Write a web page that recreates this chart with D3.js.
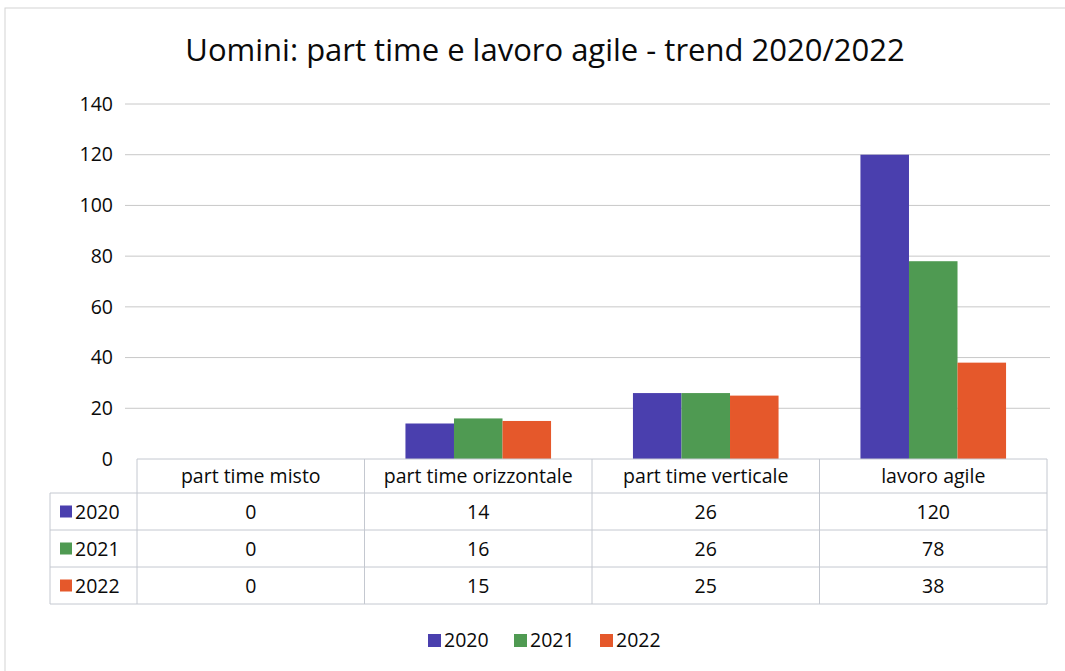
<!DOCTYPE html>
<html>
<head>
<meta charset="utf-8">
<script src="https://cdn.jsdelivr.net/npm/d3@7"></script>
<style>
  body { margin: 0; background: #fff; }
  svg text { font-family: "Open Sans", "Noto Sans", sans-serif; fill: #0a0a0a; }
</style>
</head>
<body>
<div id="chart"></div>
<script>
const categories = ["part time misto", "part time orizzontale", "part time verticale", "lavoro agile"];
const years = ["2020", "2021", "2022"];
const values2020 = [0, 14, 26, 120];
const values2021 = [0, 16, 26, 78];
const values2022 = [0, 15, 25, 38];
const yTicks = [0, 20, 40, 60, 80, 100, 120, 140];
const colors = ["#4a3fae", "#4f9a52", "#e5582b"];

const series = [values2020, values2021, values2022];
const W = 1065, H = 671;
const fs = '19.5px';

const svg = d3.select('#chart').append('svg')
  .attr('width', W)
  .attr('height', H);

// outer chart frame (faint, as in the scan)
svg.append('rect')
  .attr('x', 5).attr('y', 8)
  .attr('width', W + 10).attr('height', H)
  .attr('fill', 'none')
  .attr('stroke', '#d4d4d4');

svg.append('text')
  .attr('x', 545)
  .attr('y', 61)
  .attr('text-anchor', 'middle')
  .style('font-size', '31px')
  .text('Uomini: part time e lavoro agile - trend 2020/2022');

const x = d3.scaleBand()
  .domain(categories)
  .range([137, 1047]);

const y = d3.scaleLinear()
  .domain([0, 140])
  .range([459, 104]);

const groupW = x.bandwidth() * 0.64;
const xs = d3.scaleBand()
  .domain(years)
  .range([(x.bandwidth() - groupW) / 2, (x.bandwidth() + groupW) / 2]);

// gridlines
svg.append('g')
  .selectAll('line')
  .data(yTicks.filter(d => d > 0))
  .join('line')
  .attr('x1', 125).attr('x2', 1050)
  .attr('y1', d => y(d)).attr('y2', d => y(d))
  .attr('stroke', '#c8c8c8')
  .attr('stroke-width', 1);

// y axis labels
const yAxis = svg.append('g')
  .attr('transform', 'translate(125,0)')
  .call(d3.axisLeft(y).tickValues(yTicks).tickSize(0).tickPadding(12));
yAxis.select('.domain').remove();
yAxis.selectAll('text')
  .style('font-size', fs)
  .style('font-family', '"Open Sans", sans-serif')
  .attr('fill', '#0a0a0a');

// bars
years.forEach((yr, i) => {
  svg.append('g')
    .selectAll('rect')
    .data(categories.map((c, j) => ({ c, v: series[i][j] })))
    .join('rect')
    .attr('x', d => x(d.c) + xs(yr))
    .attr('y', d => y(d.v))
    .attr('width', xs.bandwidth())
    .attr('height', d => y(0) - y(d.v))
    .attr('fill', colors[i]);
});

// data table
const headTop = 459, headBot = 493, rowH = 37;
const tbl = svg.append('g').attr('stroke', '#c4c8d0').attr('stroke-width', 1);
// horizontal lines
tbl.append('line').attr('x1', 137).attr('x2', 1047).attr('y1', headTop).attr('y2', headTop);
[0, 1, 2, 3].forEach(k => {
  tbl.append('line')
    .attr('x1', 50).attr('x2', 1047)
    .attr('y1', headBot + k * rowH).attr('y2', headBot + k * rowH);
});
// vertical lines
tbl.append('line').attr('x1', 50).attr('x2', 50).attr('y1', headBot).attr('y2', headBot + 3 * rowH);
x.domain().forEach(c => {
  tbl.append('line').attr('x1', x(c)).attr('x2', x(c)).attr('y1', headTop).attr('y2', headBot + 3 * rowH);
});
tbl.append('line').attr('x1', 1047).attr('x2', 1047).attr('y1', headTop).attr('y2', headBot + 3 * rowH);

// header text
svg.append('g')
  .selectAll('text')
  .data(categories)
  .join('text')
  .attr('x', d => x(d) + x.bandwidth() / 2)
  .attr('y', (headTop + headBot) / 2 + 7)
  .attr('text-anchor', 'middle')
  .style('font-size', fs)
  .text(d => d);

// rows
years.forEach((yr, i) => {
  const cy = headBot + i * rowH + rowH / 2;
  svg.append('rect')
    .attr('x', 60).attr('y', cy - 6)
    .attr('width', 12).attr('height', 12)
    .attr('fill', colors[i]);
  svg.append('text')
    .attr('x', 75).attr('y', cy + 7)
    .style('font-size', fs)
    .text(yr);
  svg.append('g')
    .selectAll('text')
    .data(categories.map((c, j) => ({ c, v: series[i][j] })))
    .join('text')
    .attr('x', d => x(d.c) + x.bandwidth() / 2)
    .attr('y', cy + 7)
    .attr('text-anchor', 'middle')
    .style('font-size', fs)
    .text(d => d.v);
});

// legend
const legend = svg.append('g').attr('transform', 'translate(428,640)');
years.forEach((yr, i) => {
  const g = legend.append('g').attr('transform', `translate(${i * 86},0)`);
  g.append('rect').attr('x', 0).attr('y', -6).attr('width', 13).attr('height', 13).attr('fill', colors[i]);
  g.append('text').attr('x', 16).attr('y', 7).style('font-size', fs).text(yr);
});
</script>
</body>
</html>
